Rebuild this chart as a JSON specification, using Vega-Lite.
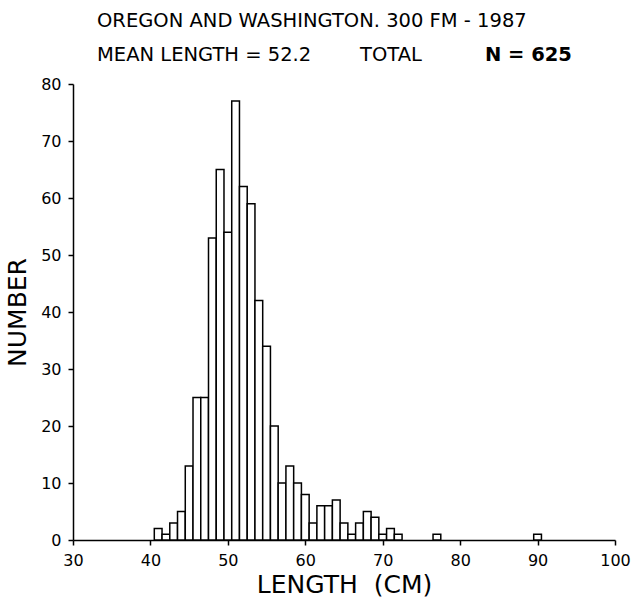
{
  "$schema": "https://vega.github.io/schema/vega-lite/v6.json",
  "width": 542,
  "height": 456,
  "autosize": {"type": "none"},
  "padding": {"left": 73, "top": 84, "right": 18, "bottom": 59},
  "background": "white",
  "config": {
    "view": {"stroke": null},
    "font": "DejaVu Sans",
    "text": {"font": "DejaVu Sans", "fontSize": 19.5, "color": "black", "align": "left", "baseline": "alphabetic"},
    "axis": {
      "grid": false,
      "domainColor": "black",
      "domainWidth": 1.5,
      "tickColor": "black",
      "tickWidth": 1.5,
      "tickSize": 5,
      "labelColor": "black",
      "labelFont": "DejaVu Sans",
      "labelFontSize": 16,
      "labelFlush": false,
      "titleColor": "black",
      "titleFont": "DejaVu Sans",
      "titleFontSize": 25,
      "titleFontWeight": "normal"
    }
  },
  "layer": [
    {
      "data": {
        "values": [
          {"lo": 40.5, "hi": 41.5, "count": 2},
          {"lo": 41.5, "hi": 42.5, "count": 1},
          {"lo": 42.5, "hi": 43.5, "count": 3},
          {"lo": 43.5, "hi": 44.5, "count": 5},
          {"lo": 44.5, "hi": 45.5, "count": 13},
          {"lo": 45.5, "hi": 46.5, "count": 25},
          {"lo": 46.5, "hi": 47.5, "count": 25},
          {"lo": 47.5, "hi": 48.5, "count": 53},
          {"lo": 48.5, "hi": 49.5, "count": 65},
          {"lo": 49.5, "hi": 50.5, "count": 54},
          {"lo": 50.5, "hi": 51.5, "count": 77},
          {"lo": 51.5, "hi": 52.5, "count": 62},
          {"lo": 52.5, "hi": 53.5, "count": 59},
          {"lo": 53.5, "hi": 54.5, "count": 42},
          {"lo": 54.5, "hi": 55.5, "count": 34},
          {"lo": 55.5, "hi": 56.5, "count": 20},
          {"lo": 56.5, "hi": 57.5, "count": 10},
          {"lo": 57.5, "hi": 58.5, "count": 13},
          {"lo": 58.5, "hi": 59.5, "count": 10},
          {"lo": 59.5, "hi": 60.5, "count": 8},
          {"lo": 60.5, "hi": 61.5, "count": 3},
          {"lo": 61.5, "hi": 62.5, "count": 6},
          {"lo": 62.5, "hi": 63.5, "count": 6},
          {"lo": 63.5, "hi": 64.5, "count": 7},
          {"lo": 64.5, "hi": 65.5, "count": 3},
          {"lo": 65.5, "hi": 66.5, "count": 1},
          {"lo": 66.5, "hi": 67.5, "count": 3},
          {"lo": 67.5, "hi": 68.5, "count": 5},
          {"lo": 68.5, "hi": 69.5, "count": 4},
          {"lo": 69.5, "hi": 70.5, "count": 1},
          {"lo": 70.5, "hi": 71.5, "count": 2},
          {"lo": 71.5, "hi": 72.5, "count": 1},
          {"lo": 76.5, "hi": 77.5, "count": 1},
          {"lo": 89.5, "hi": 90.5, "count": 1}
        ]
      },
      "mark": {"type": "bar", "fill": "white", "stroke": "black", "strokeWidth": 1.5},
      "encoding": {
        "x": {
          "field": "lo",
          "type": "quantitative",
          "scale": {"domain": [30, 100], "nice": false},
          "axis": {
            "title": "LENGTH\u00a0\u00a0(CM)",
            "values": [30, 35, 40, 45, 50, 55, 60, 65, 70, 75, 80, 85, 90, 95, 100],
            "labelExpr": "datum.value % 10 === 0 ? datum.label : ''",
            "labelPadding": 7,
            "titlePadding": 4
          }
        },
        "x2": {"field": "hi"},
        "y": {
          "field": "count",
          "type": "quantitative",
          "scale": {"domain": [0, 80], "nice": false},
          "axis": {
            "title": "NUMBER",
            "values": [0, 5, 10, 15, 20, 25, 30, 35, 40, 45, 50, 55, 60, 65, 70, 75, 80],
            "labelExpr": "datum.value % 10 === 0 ? datum.label : ''",
            "labelPadding": 7,
            "titlePadding": 10
          }
        },
        "y2": {"datum": 0}
      }
    },
    {
      "data": {"values": [{"label": "OREGON AND WASHINGTON. 300 FM - 1987"}]},
      "mark": {"type": "text"},
      "encoding": {
        "text": {"field": "label"},
        "x": {"datum": 33.1, "type": "quantitative"},
        "y": {"datum": 90.0, "type": "quantitative"}
      }
    },
    {
      "data": {"values": [{"label": "MEAN LENGTH = 52.2"}]},
      "mark": {"type": "text"},
      "encoding": {
        "text": {"field": "label"},
        "x": {"datum": 33.1, "type": "quantitative"},
        "y": {"datum": 84.04, "type": "quantitative"}
      }
    },
    {
      "data": {"values": [{"label": "TOTAL"}]},
      "mark": {"type": "text"},
      "encoding": {
        "text": {"field": "label"},
        "x": {"datum": 67.07, "type": "quantitative"},
        "y": {"datum": 84.04, "type": "quantitative"}
      }
    },
    {
      "data": {"values": [{"label": "N = 625"}]},
      "mark": {"type": "text", "fontWeight": "bold"},
      "encoding": {
        "text": {"field": "label"},
        "x": {"datum": 83.2, "type": "quantitative"},
        "y": {"datum": 84.04, "type": "quantitative"}
      }
    }
  ]
}
